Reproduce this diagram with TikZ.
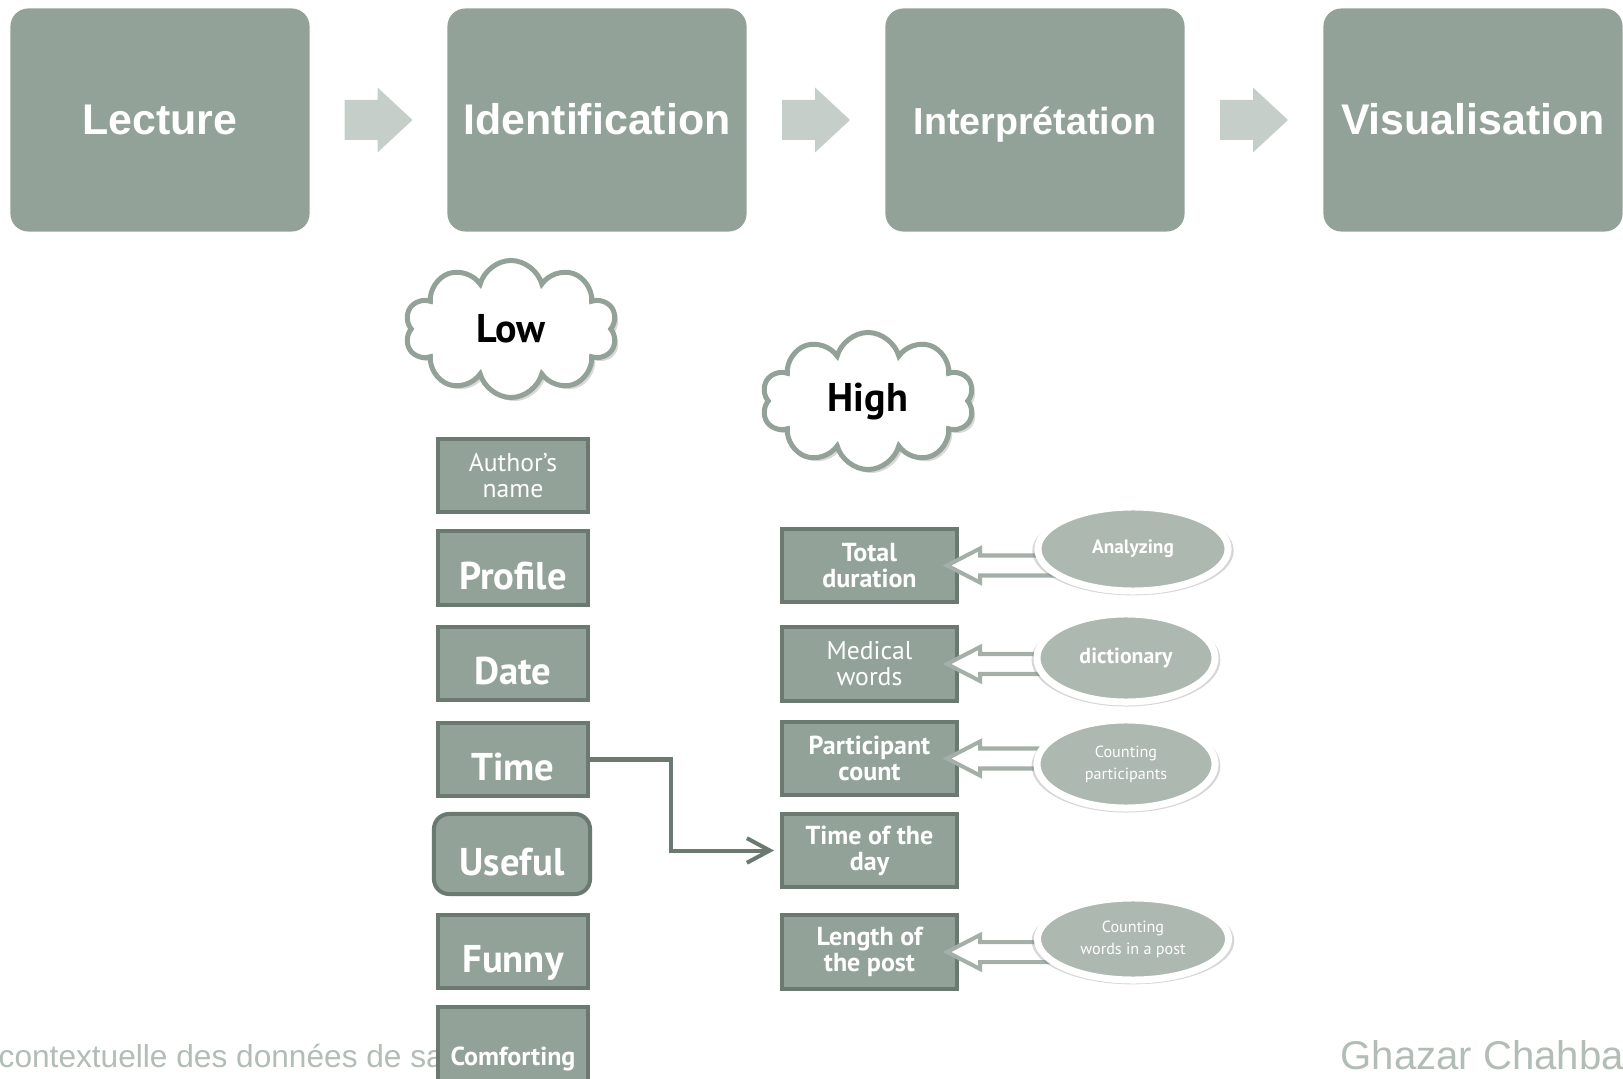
\documentclass[tikz,border=0pt]{standalone}
\usepackage{fontspec}
\setmainfont{PT Sans}
\newfontfamily\arialfont{Liberation Sans}
\usetikzlibrary{shapes.geometric,shapes.symbols,shadows,calc,arrows.meta}

\definecolor{boxgreen}{HTML}{92A298}
\definecolor{boxdark}{HTML}{6B7A71}
\definecolor{ovalgreen}{HTML}{ADB8B0}
\definecolor{chevgreen}{HTML}{C6CEC9}
\definecolor{footgray}{HTML}{B2BDB6}
\definecolor{arrowgreen}{HTML}{A3AFA7}

\pgfdeclarelayer{front}
\pgfsetlayers{main,front}

\tikzset{
  stage/.style={rectangle, rounded corners=0.18cm, fill=boxgreen, text=white,
    minimum width=2.99cm, minimum height=2.23cm, text height=8.4pt, text depth=0pt,
    font=\arialfont\bfseries\fontsize{12.2pt}{14pt}\selectfont},
  chev/.style={fill=chevgreen},
  attr/.style={rectangle, fill=boxgreen, draw=boxdark, line width=0.04cm, text=white,
    minimum width=1.50cm, minimum height=0.73cm, inner sep=1pt, align=center},
  feat/.style={attr, minimum width=1.75cm},
  bigtxt/.style={font=\bfseries\fontsize{11pt}{12pt}\selectfont,
    text height=12pt, text depth=0pt},
  smalltxt/.style={font=\fontsize{7.3pt}{7.4pt}\selectfont},
  smallbold/.style={font=\bfseries\fontsize{7.4pt}{7.4pt}\selectfont},
  tool/.style={ellipse, fill=ovalgreen, draw=white, line width=0.07cm, text=white,
    inner sep=0pt, align=center,
    drop shadow={shadow xshift=0pt, shadow yshift=-0.5pt, shadow scale=1.06, opacity=0.32}},
  level/.style={cloud, cloud puffs=10, aspect=1.5, fill=white, draw=boxgreen,
    line width=0.05cm, minimum width=2.12cm, minimum height=1.37cm,
    font=\bfseries\fontsize{11.4pt}{13pt}\selectfont,
    drop shadow={shadow xshift=1pt, shadow yshift=-1pt, opacity=0.3}},
  barrow/.style={fill=white, draw=arrowgreen, line width=0.04cm},
  link/.style={draw=boxdark, line width=0.04cm, shorten >=1.7pt,
    -{Straight Barb[length=6.5pt, width=7pt]}},
  foot/.style={text=footgray, inner sep=0pt}
}

\begin{document}
\begin{tikzpicture}[x=0.01cm, y=-0.01cm]
\useasboundingbox (0,0) rectangle (1623,1079);

% process steps
\node[stage] (lec) at (160,120) {Lecture};
\node[stage] (idf) at (597,120) {Identification};
\node[stage, font=\arialfont\bfseries\fontsize{10.7pt}{12pt}\selectfont]
  (itp) at (1035,120) {Interprétation};
\node[stage] (vis) at (1473,120) {Visualisation};

\foreach \a/\b in {lec/idf, idf/itp, itp/vis}
  \fill[chev] ($(\a.east)!0.5!(\b.west)+(-34,-20)$) -- ++(33,0) -- ++(0,-12.5)
    -- ++(35,32.5) -- ++(-35,32.5) -- ++(0,-12.5) -- ++(-33,0) -- cycle;

% clouds
\node[level] (low) at (511,329) {Low};
\node[level] (high) at (868,401) {High};

% footer
\node[foot, anchor=base west, font=\arialfont\fontsize{9pt}{10pt}\selectfont]
  (src) at (-2,1067) {contextuelle des données de sa};
\node[foot, anchor=base west, font=\arialfont\fontsize{11.4pt}{13pt}\selectfont]
  (sig) at (1340,1069) {Ghazar Chahba};

% low level attributes
\node[attr, smalltxt] (auth) at (513,475.5) {Author’s\\name};
\node[attr, bigtxt] (prof) at (513,568) {Profile};
\node[attr, bigtxt] (date) at (513,663.5) {Date};
\node[attr, bigtxt] (time) at (513,759.5) {Time};
\node[attr, bigtxt, rounded corners=0.15cm, minimum width=1.56cm,
  minimum height=0.80cm] (useful) at (512,854) {Useful};
\node[attr, bigtxt] (funny) at (513,951.5) {Funny};
\node[attr, smallbold, minimum height=1.04cm] (comf) at (513,1059) {Comforting};

% high level features
\node[feat, smallbold] (tot) at (869.5,565.5) {Total\\duration};
\node[feat, smalltxt] (med) at (869.5,664) {Medical\\words};
\node[feat, smallbold] (part) at (869.5,758.5) {Participant\\count};
\node[feat, smallbold] (tod) at (869.5,850.5) {Time of the\\day};
\node[feat, smallbold] (len) at (869.5,952) {Length of\\the post};

% tools
\begin{pgfonlayer}{front}
\node[tool, minimum width=1.90cm, minimum height=0.84cm,
  font=\bfseries\fontsize{5.5pt}{6pt}\selectfont] (ana) at (1133,549) {Analyzing};
\node[tool, minimum width=1.78cm, minimum height=0.88cm,
  font=\bfseries\fontsize{6.2pt}{7pt}\selectfont] (dic) at (1126,658) {dictionary};
\node[tool, minimum width=1.78cm, minimum height=0.88cm,
  font=\fontsize{4.6pt}{6.2pt}\selectfont] (cpa) at (1126,764) {Counting\\participants};
\node[tool, minimum width=1.91cm, minimum height=0.82cm,
  font=\fontsize{4.6pt}{6.2pt}\selectfont] (cwp) at (1133,939) {Counting\\words in a post};
\end{pgfonlayer}

\foreach \src/\dst in {ana/tot, dic/med, cpa/part, cwp/len} {
  \coordinate (tip) at ($(\dst.east)+(-12,0)$);
  \coordinate (tail) at (\src.center |- tip);
  \filldraw[barrow] (tip) -- ++(33,-17) -- ++(0,7) -- ($(tail)+(0,-10)$)
    -- ($(tail)+(0,10)$) -- ($(tip)+(33,10)$) -- ++(0,7) -- cycle;
}

% time link
\draw[link] (time.east) -- ++(81,0) |- (tod.west);

\end{tikzpicture}
\end{document}
